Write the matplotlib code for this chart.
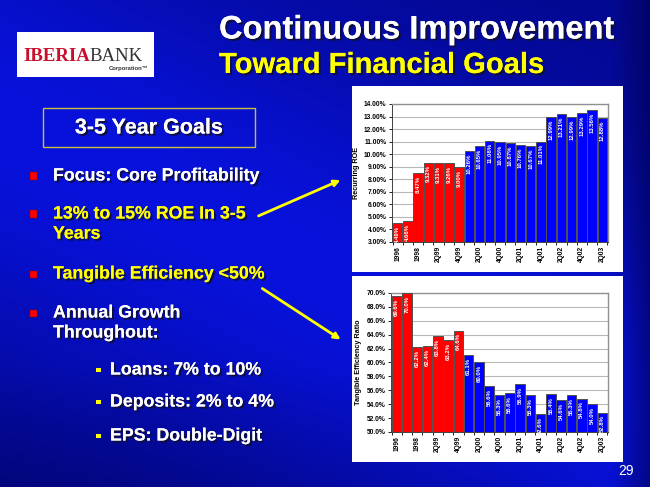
import numpy as np
import matplotlib
matplotlib.use("Agg")
import matplotlib.pyplot as plt
from matplotlib.patches import Rectangle, FancyArrowPatch
import matplotlib.patheffects as pe

# ---------------- data ----------------
periods = ['1996', '1997', '1998', '1Q99', '2Q99', '3Q99', '4Q99',
           '1Q00', '2Q00', '3Q00', '4Q00', '1Q01', '2Q01', '3Q01', '4Q01',
           '1Q02', '2Q02', '3Q02', '4Q02', '1Q03', '2Q03']
roe = [4.49, 4.66, 8.47, 9.32, 9.31, 9.26, 9.00,
       10.26, 10.65, 11.08, 10.95, 10.87, 10.76, 10.67, 11.01,
       12.99, 13.21, 12.99, 13.29, 13.56, 12.88]
efficiency = [69.6, 70.0, 62.2, 62.4, 63.8, 63.2, 64.6,
              61.1, 60.0, 56.6, 55.3, 55.6, 56.9, 55.3, 52.6,
              55.4, 54.6, 55.3, 54.8, 54.0, 52.8]
n_red = 7  # periods through 4Q99 drawn in red
roe_ticks = [3, 4, 5, 6, 7, 8, 9, 10, 11, 12, 13, 14]
eff_ticks = [50, 52, 54, 56, 58, 60, 62, 64, 66, 68, 70]

W, H = 650, 487
fig = plt.figure(figsize=(W / 100, H / 100), dpi=100)

def fx(px):
    return px / W

def fy(py):
    return 1 - py / H

# ---------------- background ----------------
bg = fig.add_axes([0, 0, 1, 1], zorder=-10)
bg.set_axis_off()
yy, xx = np.mgrid[0:H, 0:W]
u = xx / W
v = yy / H
d = (u * 0.5 - v * 0.8 + 0.2)
w = 0.45 + 0.55 * np.exp(-(d / 0.4) ** 2)
w = w * (1 - 0.6 * np.clip((u - 0.94) / 0.06, 0, 1))
w = w * (1 - 0.35 * np.clip((v - 0.75) / 0.25, 0, 1) * (1 - u))
dark = np.array([0.0, 0.0, 0.30])
bright = np.array([0.03, 0.07, 0.86])
img = dark[None, None, :] * (1 - w[..., None]) + bright[None, None, :] * w[..., None]
bg.imshow(img, extent=[0, 1, 0, 1], aspect='auto', origin='upper', zorder=0)
bg.set_xlim(0, 1)
bg.set_ylim(0, 1)

def rect_px(x0, y0, x1, y1, **kw):
    bg.add_patch(Rectangle((fx(x0), fy(y1)), fx(x1) - fx(x0), fy(y0) - fy(y1),
                           transform=bg.transAxes, **kw))

# ---------------- titles ----------------
shadow = [pe.withSimplePatchShadow(offset=(1.5, -1.5), shadow_rgbFace='#101030', alpha=0.9), pe.Normal()]
fig.text(fx(219), fy(30), 'Continuous Improvement', color='white', fontsize=23.5,
         fontweight='bold', family='Liberation Sans', va='center', ha='left', path_effects=shadow)
fig.text(fx(219), fy(65), 'Toward Financial Goals', color='#FFFF00', fontsize=21,
         fontweight='bold', family='Liberation Sans', va='center', ha='left', path_effects=shadow)

# ---------------- logo ----------------
rect_px(17, 32, 154, 77, facecolor='white', edgecolor='none', zorder=2)
t1 = fig.text(fx(23), fy(61), 'IBERIA', color='#C8102E', fontsize=13.5, fontweight='bold',
              family='Liberation Serif', va='baseline', ha='left')
fig.canvas.draw()
bb = t1.get_window_extent()
fig.text(bb.x1 / W, fy(61), 'BANK', color='#333333', fontsize=13.5,
         family='Liberation Serif', va='baseline', ha='left')
fig.text(fx(148), fy(70), 'Corporation\u2122', color='#333333', fontsize=4.2, fontweight='bold',
         family='Liberation Sans', va='baseline', ha='right')

# ---------------- goals box ----------------
rect_px(43, 108, 255, 147, facecolor='none', edgecolor='#C8C040', lw=1, zorder=2)
fig.text(fx(149), fy(128), '3-5 Year Goals', color='white', fontsize=15.5, fontweight='bold',
         family='Liberation Sans', va='center', ha='center', path_effects=shadow)

bullets = [
    (176, ['Focus: Core Profitability'], 'white'),
    (214, ['13% to 15% ROE In 3-5', 'Years'], '#FFFF00'),
    (274, ['Tangible Efficiency <50%'], '#FFFF00'),
    (313, ['Annual Growth', 'Throughout:'], 'white'),
]
for yc, lines, col in bullets:
    rect_px(30, yc - 3.5, 37, yc + 3.5, facecolor='#FF0000', edgecolor='#800000', lw=0.3, zorder=2)
    for i, ln in enumerate(lines):
        fig.text(fx(53), fy(yc + i * 20), ln, color=col, fontsize=12.8, fontweight='bold',
                 family='Liberation Sans', va='center', ha='left', path_effects=shadow)

subs = [(370, 'Loans: 7% to 10%'), (402, 'Deposits: 2% to 4%'), (436, 'EPS: Double-Digit')]
for yc, s in subs:
    rect_px(96, yc - 2.5, 100.5, yc + 2, facecolor='#FFFF00', edgecolor='none', zorder=2)
    fig.text(fx(110), fy(yc), s, color='white', fontsize=12.8, fontweight='bold',
             family='Liberation Sans', va='center', ha='left', path_effects=shadow)

# arrows
for (x0, y0, x1, y1) in [(256, 217, 343, 179), (260, 287, 343, 341)]:
    bg.add_patch(FancyArrowPatch((fx(x0), fy(y0)), (fx(x1), fy(y1)),
                                 transform=bg.transAxes, arrowstyle='-|>',
                                 mutation_scale=9, color='#FFFF00', lw=2, zorder=3))

# page number
fig.text(fx(626), fy(471), '29', color='white', fontsize=10, family='Liberation Sans',
         va='center', ha='center')

# ---------------- chart panels ----------------
rect_px(352, 86, 623, 272, facecolor='white', edgecolor='none', zorder=2)
rect_px(352, 276, 623, 462, facecolor='white', edgecolor='none', zorder=2)

colors = ['#FF0000'] * n_red + ['#0000FF'] * (len(periods) - n_red)
x = np.arange(len(periods))

def draw_chart(rect, vals, ticks, fmt_tick, fmt_lab, ylabel):
    ax = fig.add_axes(rect, zorder=5)
    ax.set_facecolor('white')
    ax.bar(x, [v - ticks[0] for v in vals], bottom=ticks[0], width=0.92, color=colors,
           edgecolor='#505050', linewidth=0.7, zorder=3)
    ax.set_xlim(-0.55, len(periods) - 0.45)
    ax.set_ylim(ticks[0], ticks[-1])
    ax.set_yticks(ticks)
    ax.set_yticklabels([fmt_tick(t) for t in ticks], fontsize=4.8, fontweight='bold',
                       family='Liberation Sans')
    ax.grid(axis='y', color='#B8B8B8', lw=0.8, zorder=0)
    ax.set_xticks(x[::2])
    ax.set_xticklabels(periods[::2], rotation=90, fontsize=4.8, fontweight='bold',
                       family='Liberation Sans')
    ax.set_xticks(np.arange(-0.5, len(periods), 1), minor=True)
    ax.tick_params(axis='x', which='major', length=0, pad=3)
    ax.tick_params(axis='x', which='minor', length=2.5, width=0.6)
    ax.tick_params(axis='y', length=2.5, width=0.6, pad=1.5)
    for s in ['top', 'right']:
        ax.spines[s].set_color('#909090')
        ax.spines[s].set_linewidth(1.0)
    for s in ['left', 'bottom']:
        ax.spines[s].set_color('#404040')
        ax.spines[s].set_linewidth(0.7)
    ax.set_ylabel(ylabel, fontsize=5.2, fontweight='bold', family='Liberation Sans', labelpad=3)
    for xi, v in zip(x, vals):
        ax.annotate(fmt_lab(v), (xi, v), xytext=(0, -2), textcoords='offset points',
                    rotation=90, ha='center', va='top', color='white', fontsize=4.3,
                    fontweight='bold', family='Liberation Sans', zorder=4)
    return ax

draw_chart([fx(392), fy(242), fx(608) - fx(392), fy(104) - fy(242)], roe, roe_ticks,
           lambda t: f'{t:.2f}%', lambda v: f'{v:.2f}%', 'Recurring ROE')
draw_chart([fx(391), fy(432), fx(608) - fx(391), fy(293) - fy(432)], efficiency, eff_ticks,
           lambda t: f'{t:.1f}%', lambda v: f'{v:.1f}%', 'Tangible Efficiency Ratio')

fig.savefig('out.png', dpi=100)
